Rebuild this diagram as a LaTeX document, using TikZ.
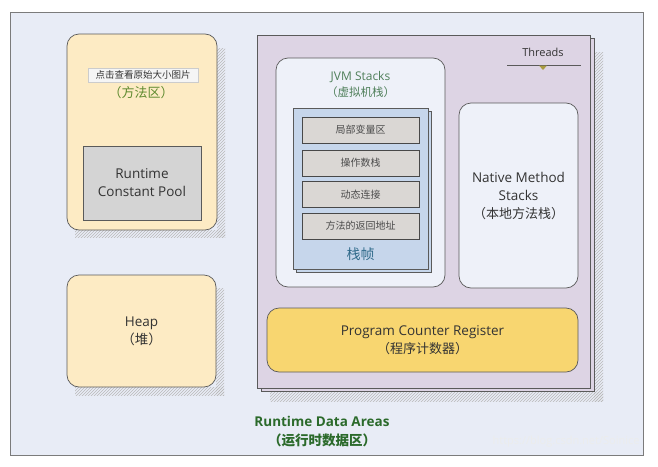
\documentclass[tikz,border=0pt]{standalone}
\usepackage{fontspec}
\setmainfont{Open Sans}
\newfontfamily\cjk{Noto Sans CJK SC}
\usetikzlibrary{patterns}
\definecolor{bgframe}{HTML}{E8ECF6}
\definecolor{peach}{HTML}{FDEBC4}
\definecolor{lilac}{HTML}{DDD4E4}
\definecolor{paleblue}{HTML}{EEF1F9}
\definecolor{framebl}{HTML}{C6D6EB}
\definecolor{rowgray}{HTML}{DAD7D4}
\definecolor{poolgray}{HTML}{D4D4D4}
\definecolor{gold}{HTML}{F8D670}
\definecolor{edge}{HTML}{5A5A5A}
\definecolor{olivegreen}{HTML}{5E8A2E}
\definecolor{khaki}{HTML}{A99B40}
\definecolor{jvmgreen}{HTML}{4F7F5A}
\definecolor{tealblue}{HTML}{2F6A8A}
\definecolor{darkgreen}{HTML}{2B6A2B}
\definecolor{txt}{HTML}{333333}
\begin{document}
\begin{tikzpicture}[x=1pt,y=-1pt,
  boxstyle/.style={draw=edge, line width=0.7pt, inner sep=0pt, align=center},
  roundbox/.style={boxstyle, rounded corners=12pt},
  hatch/.style={pattern=north east lines, pattern color=gray!55, draw=none},
  rowbox/.style={boxstyle, fill=rowgray, draw=edge!80!black, minimum width=117pt, minimum height=26pt, font=\cjk\fontsize{10}{12}\selectfont, text=black!70},
  bigtext/.style={font=\fontsize{13.5}{18}\selectfont, text=txt}
]
\useasboundingbox (0,0) rectangle (658,466);
\fill[white] (0,0) rectangle (658,466);
% outer frame
\node[boxstyle, fill=bgframe, draw=edge!80, minimum width=633pt, minimum height=443pt] (outer) at (326.5,233.5) {};

% method area
\fill[hatch] (217,48) rectangle (225,237);
\fill[hatch] (75,230) rectangle (225,237);
\node[roundbox, fill=peach, minimum width=150pt, minimum height=196pt] (method) at (142,132) {};
\node[draw=gray!40, fill=gray!8, inner sep=0pt, minimum width=110pt, minimum height=14pt, font=\cjk\fontsize{9.5}{10}\selectfont, text=black!80] (tip) at (143,75) {点击查看原始大小图片};
\node[font=\cjk\fontsize{13}{14}\selectfont, text=olivegreen] (methodlbl) at (141,93) {（方法区）};
\node[boxstyle, fill=poolgray, minimum width=118pt, minimum height=74pt, bigtext] (pool) at (142,183) {Runtime\\Constant Pool};

% heap
\fill[hatch] (216,288) rectangle (224,395);
\fill[hatch] (75,387) rectangle (224,395);
\node[roundbox, fill=peach, minimum width=149pt, minimum height=112pt, font=\fontsize{13.5}{18}\selectfont, text=txt] (heap) at (141.5,331) {Heap\\{\cjk（堆）}};

% threads
\fill[hatch] (594,52) rectangle (603,401);
\fill[hatch] (270,392) rectangle (603,401);
\node[boxstyle, fill=lilac, minimum width=333pt, minimum height=353pt] (threadsback) at (427.5,214.5) {};
\node[boxstyle, fill=lilac, minimum width=333pt, minimum height=353pt] (threads) at (423.5,211.5) {};
\node[font=\fontsize{11}{13}\selectfont, text=txt] (threadslbl) at (543,52) {Threads};
\coordinate (tl1) at (507,65);
\coordinate (tl2) at (581,65);
\draw[edge, line width=0.8pt] (tl1) -- (tl2);
\fill[khaki] (539,65.5) -- (547,65.5) -- (543,70) -- cycle;

% JVM stacks
\node[roundbox, fill=paleblue, minimum width=169pt, minimum height=229pt] (jvm) at (360.5,172.5) {};
\node[font=\fontsize{12}{16}\selectfont, text=jvmgreen, align=center] (jvmlbl) at (360.5,84) {JVM Stacks\\{\cjk\fontsize{11.5}{16}\selectfont（虚拟机栈）}};
\node[boxstyle, fill=framebl, minimum width=135pt, minimum height=161pt] (frameback) at (363.5,191.5) {};
\node[boxstyle, fill=framebl, minimum width=135pt, minimum height=161pt] (frame) at (360.5,188.5) {};
\node[rowbox] (r1) at (360.5,130) {局部变量区};
\node[rowbox] (r2) at (360.5,163) {操作数栈};
\node[rowbox] (r3) at (360.5,194.5) {动态连接};
\node[rowbox] (r4) at (360.5,226) {方法的返回地址};
\node[font=\cjk\fontsize{14}{15}\selectfont, text=tealblue] (framelbl) at (360.5,254) {栈帧};

% native
\node[roundbox, fill=paleblue, minimum width=119pt, minimum height=185pt, bigtext] (native) at (518.5,195.5) {Native Method\\Stacks\\{\cjk\fontsize{13}{18}\selectfont（本地方法栈）}};

% PC register
\node[roundbox, fill=gold, minimum width=311pt, minimum height=64pt, font=\fontsize{13.5}{18}\selectfont, text=txt] (pc) at (422.5,340) {Program Counter Register\\{\cjk\fontsize{13}{18}\selectfont（程序计数器）}};

% caption
\node[font=\bfseries\fontsize{13.5}{19}\selectfont, text=darkgreen, align=center] (caption) at (322,432) {Runtime Data Areas\\{\cjk\bfseries\fontsize{13.5}{19}\selectfont（运行时数据区）}};
\node[font=\fontsize{11}{13}\selectfont, text=white!85!gray, anchor=east] (wm) at (643,442) {https://blog.csdn.net/Soinice};
\end{tikzpicture}
\end{document}
